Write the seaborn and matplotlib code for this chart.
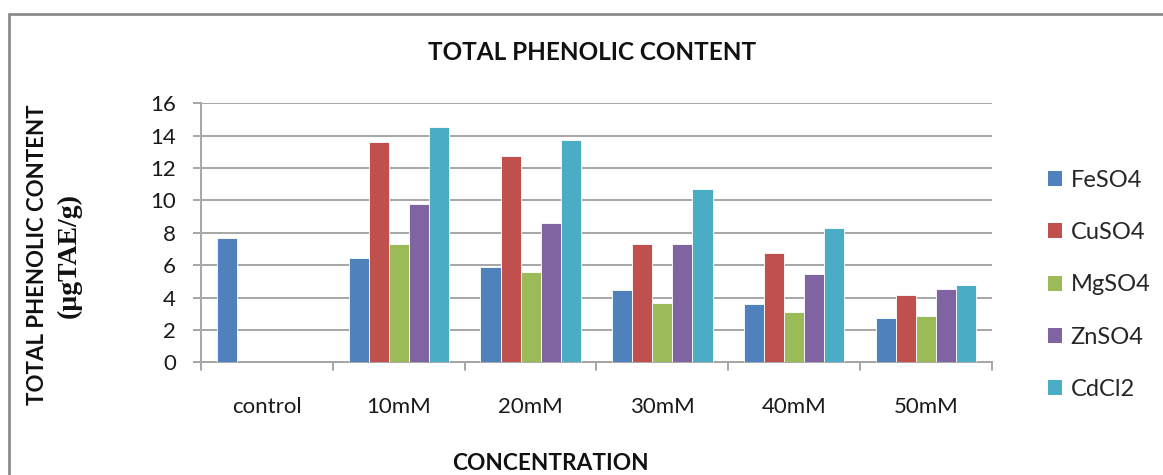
import matplotlib
matplotlib.use("Agg")
import matplotlib.pyplot as plt
import seaborn as sns
import pandas as pd
import numpy as np
from matplotlib.patches import Patch
from matplotlib.lines import Line2D

categories = ["control", "10mM", "20mM", "30mM", "40mM", "50mM"]
series = ["FeSO4", "CuSO4", "MgSO4", "ZnSO4", "CdCl2"]
feso4 = [7.70, 6.42, 5.87, 4.47, 3.58, 2.72]
cuso4 = [np.nan, 13.59, 12.76, 7.31, 6.75, 4.14]
mgso4 = [np.nan, 7.31, 5.56, 3.66, 3.13, 2.88]
znso4 = [np.nan, 9.76, 8.59, 7.31, 5.43, 4.55]
cdcl2 = [np.nan, 14.52, 13.73, 10.72, 8.28, 4.77]
colors = ["#4F81BD", "#C0504D", "#9BBB59", "#8064A2", "#4BACC6"]

values = [feso4, cuso4, mgso4, znso4, cdcl2]
rows = []
for name, vals in zip(series, values):
    for cat, v in zip(categories, vals):
        rows.append({"Concentration": cat, "Salt": name, "Value": v})
df = pd.DataFrame(rows)

sns.set_theme(style="white")
plt.rcParams["font.family"] = ["Lato", "DejaVu Sans"]

W, H = 1163, 475
fig = plt.figure(figsize=(W / 100, H / 100), dpi=100)
ax = fig.add_axes([201 / W, 1 - 362.3 / H, (992 - 201) / W, (362.3 - 103.3) / H])

sns.barplot(data=df, x="Concentration", y="Value", hue="Salt",
            order=categories, hue_order=series, palette=colors, saturation=1,
            width=0.76, ax=ax, legend=False, errorbar=None,
            edgecolor="#FFFFFF", linewidth=0.6, zorder=3)

ax.set_ylim(0, 16)
ax.set_xlim(-0.5, len(categories) - 0.5)
ax.set_yticks(range(0, 17, 2))
ax.yaxis.grid(True, color="#A6A6A6", linewidth=1.4, zorder=0)
ax.set_axisbelow(True)
ax.set_xlabel("")
ax.set_ylabel("")

# Category tick marks sit on the group boundaries
ax.set_xticks(np.arange(len(categories)))
ax.set_xticklabels(categories, fontsize=16, color="#1a1a1a")
ax.tick_params(axis="x", length=0, pad=25)
for b in np.arange(-0.5, len(categories), 1.0):
    ax.add_line(Line2D([b, b], [0, -0.5], color="#A6A6A6", linewidth=1.4,
                       clip_on=False, transform=ax.transData))
ax.tick_params(axis="y", labelsize=16, labelcolor="#1a1a1a", length=6,
               width=1.4, color="#A6A6A6", left=True, direction="out", pad=12)

for s in ["top", "right"]:
    ax.spines[s].set_visible(False)
for s in ["left", "bottom"]:
    ax.spines[s].set_color("#A6A6A6")
    ax.spines[s].set_linewidth(1.4)

fig.text(592 / W, 1 - 53 / H, "TOTAL PHENOLIC CONTENT", ha="center", va="center",
         fontsize=17.5, fontweight="bold", color="#111111")
fig.text(550 / W, 1 - 463 / H, "CONCENTRATION", ha="center", va="center",
         fontsize=16.3, fontweight="bold", color="#111111")
fig.text(38 / W, 1 - 255 / H, "TOTAL PHENOLIC CONTENT", ha="center", va="center",
         rotation=90, fontsize=16, fontweight="bold", color="#111111")
fig.text(69 / W, 1 - 255 / H, "(µgTAE/g)", ha="center", va="center",
         rotation=90, fontsize=20, fontweight="bold", color="#111111",
         family=["Liberation Serif", "DejaVu Serif"])

handles = [Patch(facecolor=c, edgecolor="none") for c in colors]
fig.legend(handles, series, loc="upper left", bbox_to_anchor=(1048 / W, 1 - 170 / H),
           frameon=False, fontsize=17, handlelength=0.6, handleheight=0.6,
           handletextpad=0.35, labelspacing=1.32, borderaxespad=0, borderpad=0)

# Outer chart frame
fig.add_artist(Line2D([9 / W, 9 / W], [0, 1 - 14 / H], color="#8C8C8C", linewidth=2,
                      transform=fig.transFigure))
fig.add_artist(Line2D([9 / W, 1], [1 - 14 / H, 1 - 14 / H], color="#8C8C8C", linewidth=2,
                      transform=fig.transFigure))

fig.savefig("out.png", dpi=100, facecolor="white")
